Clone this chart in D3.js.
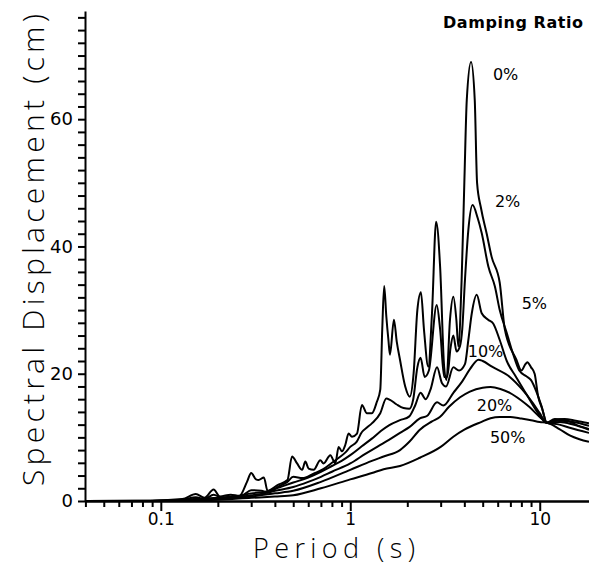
<!DOCTYPE html>
<html>
<head>
<meta charset="utf-8">
<script src="https://cdn.jsdelivr.net/npm/d3@7"></script>
<style>
  body { margin: 0; background: #fff; }
  .axis path, .axis line { stroke: #000; stroke-width: 2; }
  .axis text { font-family: "DejaVu Sans", sans-serif; fill: #000; }
  .curve { fill: none; stroke: #000; stroke-width: 2; stroke-linejoin: round; }
</style>
</head>
<body>
<div id="chart"></div>
<script>
// damping curves: [period (s), spectral displacement (cm)]
var damp0 = [[0.04,0],[0.09,0.05],[0.13,0.3],[0.153,1.1],[0.17,0.5],[0.19,1.8],[0.205,0.7],[0.234,1.0],[0.26,0.8],
  [0.285,3.0],[0.30,4.4],[0.318,3.4],[0.328,3.3],[0.35,3.7],[0.366,1.6],[0.413,2.5],[0.466,3.3],[0.493,7.0],
  [0.524,5.9],[0.557,4.9],[0.579,6.2],[0.603,5.1],[0.641,4.9],[0.695,6.4],[0.723,5.9],[0.785,7.2],[0.834,5.9],
  [0.868,8.5],[0.904,7.8],[0.941,8.8],[0.98,10.6],[1.021,10.1],[1.085,10.6],[1.152,15.1],[1.224,13.8],[1.301,13.8],
  [1.382,15.6],[1.44,17.5],[1.475,27],[1.51,33.8],[1.55,29],[1.59,25.3],[1.62,23.0],[1.70,28.5],[1.76,25],
  [1.83,22.2],[1.95,18],[2.06,16.4],[2.16,20.1],[2.26,30],[2.36,32.8],[2.45,26.9],[2.58,21.1],[2.70,29.5],
  [2.84,43.9],[2.98,36.8],[3.13,21.1],[3.22,19.0],[3.36,28.5],[3.50,32.1],[3.63,28.5],[3.72,24.3],[3.87,34.7],
  [4.0,50],[4.12,63],[4.34,69.0],[4.54,63],[4.67,50],[4.9,46],[5.25,42],[5.57,38.4],[6.15,34.3],[6.54,27],
  [7.53,22.2],[8.0,20.5],[8.4,21.5],[8.6,21.8],[9.0,21.0],[9.4,20.0],[9.8,16.5],[10.3,14.5],[10.9,12.3],
  [12.0,12.9],[13.5,12.8],[15.5,12.0],[18.2,11.3]];

var damp2 = [[0.04,0],[0.09,0.03],[0.13,0.2],[0.153,0.6],[0.17,0.3],[0.19,1.0],[0.21,0.5],[0.234,0.7],[0.27,0.9],
  [0.30,1.7],[0.34,1.6],[0.366,1.3],[0.42,2.3],[0.466,3.0],[0.5,3.8],[0.56,3.6],[0.64,4.3],[0.72,5.0],[0.8,6.0],
  [0.87,6.8],[0.94,7.6],[1.0,8.5],[1.08,9.3],[1.15,10.8],[1.22,11.5],[1.3,12.2],[1.44,13.8],[1.55,16.1],
  [1.62,15.9],[1.75,15.2],[1.91,14.6],[2.05,14.5],[2.15,16],[2.26,21],[2.35,22.5],[2.47,19.5],[2.6,20.5],
  [2.86,30.8],[2.98,27],[3.13,19.5],[3.25,19.5],[3.38,24],[3.5,26],[3.64,23.5],[3.79,24.3],[3.9,27],[4.03,34.7],
  [4.2,42.6],[4.42,46.5],[4.7,44.5],[4.94,42.1],[5.36,36.8],[5.8,33.7],[6.15,30.0],[6.7,26.4],[7.2,23.3],
  [7.8,20.5],[8.5,19.6],[9.0,19.0],[9.6,17.2],[10.2,15.0],[10.9,12.3],[12.0,12.7],[13.5,12.9],[15.5,12.6],[18.2,12.2]];

var damp5 = [[0.04,0],[0.1,0.02],[0.15,0.3],[0.2,0.5],[0.25,0.7],[0.3,1.2],[0.35,1.4],[0.4,1.9],[0.5,2.9],
  [0.6,3.7],[0.7,4.6],[0.8,5.5],[0.9,6.3],[1.0,7.2],[1.15,8.6],[1.3,9.8],[1.45,11.0],[1.6,11.9],[1.83,12.7],
  [2.05,13.3],[2.2,15.0],[2.35,17.0],[2.5,16.0],[2.65,17.5],[2.87,21.0],[3.05,18.5],[3.2,18.0],[3.5,21.0],
  [3.75,20.5],[4.03,21.5],[4.2,25.3],[4.38,29.5],[4.65,32.4],[4.94,29.5],[5.34,28.5],[5.68,27.9],[6.15,25.3],
  [6.7,22.0],[7.5,19.5],[8.5,16.8],[9.6,14.2],[10.9,12.3],[12.5,12.6],[15,12.4],[18.2,11.8]];

var damp10 = [[0.04,0],[0.1,0.02],[0.15,0.2],[0.2,0.4],[0.25,0.6],[0.3,0.9],[0.35,1.2],[0.4,1.6],[0.5,2.2],
  [0.6,3.0],[0.7,3.8],[0.8,4.6],[1.0,5.9],[1.2,7.4],[1.4,8.6],[1.6,9.6],[1.83,10.7],[2.05,11.6],[2.33,13.0],
  [2.55,13.4],[2.87,15.5],[3.1,15.0],[3.5,17.0],[3.9,18.8],[4.3,20.8],[4.75,22.2],[5.0,22.0],[5.6,21.1],
  [6.95,19.5],[8.1,17.5],[9.2,15.4],[10.0,13.8],[10.9,12.3],[12.7,12.4],[15,12.0],[18.2,11.2]];

var damp20 = [[0.04,0],[0.1,0.01],[0.2,0.3],[0.3,0.7],[0.4,1.2],[0.5,1.6],[0.7,3.0],[1.0,4.9],[1.3,6.3],
  [1.5,7.0],[1.83,8.0],[2.05,9.3],[2.33,11.2],[2.7,12.5],[2.97,13.2],[3.32,14.8],[3.8,16.3],[4.28,17.2],
  [5.0,17.8],[5.5,17.9],[6.2,17.6],[6.95,17.0],[8.0,15.8],[8.8,14.8],[10.0,13.2],[10.9,12.3],[12.7,12.0],
  [14.4,11.5],[18.2,10.7]];

var damp50 = [[0.04,0],[0.1,0.01],[0.2,0.2],[0.3,0.5],[0.4,0.7],[0.5,0.9],[0.7,2.0],[1.0,3.4],[1.3,4.4],
  [1.5,5.0],[1.83,5.5],[2.33,6.8],[3.0,8.5],[3.5,10.1],[4.0,11.2],[4.9,12.4],[5.5,13.0],[6.15,13.2],[7.0,13.2],
  [7.8,13.0],[9.0,12.7],[10.0,12.4],[10.9,12.3],[12.7,11.3],[14.4,10.3],[16.2,9.7],[18.2,9.3]];

// curve labels
var labelText = ["0%", "2%", "5%", "10%", "20%", "50%"];
var labelPeriod = [5.66, 5.80, 8.03, 4.17, 4.65, 5.46];
var labelDisp = [66.2, 46.2, 30.2, 22.6, 14.1, 9.1];

// ticks
var yMajor = [0, 20, 40, 60];
var xMajor = [0.1, 1, 10];

var svgWidth = 589;
var svgHeight = 567;

var margin = { top: 11, right: 0, bottom: 66, left: 85 };
var width = svgWidth - margin.left - margin.right;
var height = svgHeight - margin.top - margin.bottom;

var svg = d3.select("#chart")
  .append("svg")
  .attr("width", svgWidth)
  .attr("height", svgHeight);

var chartGroup = svg.append("g")
  .attr("transform", `translate(${margin.left}, ${margin.top})`);

var xScale = d3.scaleLog().domain([0.0398, 18.2]).range([0, width]);
var yScale = d3.scaleLinear().domain([0, 77]).range([height, 0]);

// minor x ticks
var xMinor = [];
[0.01, 0.1, 1, 10].forEach(function(dec) {
  for (var i = 2; i <= 9; i++) {
    var v = +(dec * i).toPrecision(2);
    if (v >= 0.04 && v <= 18) xMinor.push(v);
  }
});

// y axis
chartGroup.append("g")
  .attr("class", "axis")
  .call(d3.axisLeft(yScale)
    .tickValues(d3.range(0, 77, 2))
    .tickSize(7)
    .tickSizeOuter(0)
    .tickPadding(5)
    .tickFormat(d => yMajor.indexOf(d) >= 0 ? d : ""))
  .selectAll("text")
  .attr("font-size", "18px");

// x axis (minor + major)
chartGroup.append("g")
  .attr("class", "axis")
  .attr("transform", `translate(0, ${height})`)
  .call(d3.axisBottom(xScale).tickValues(xMinor).tickSize(6).tickSizeOuter(0).tickFormat(""));

chartGroup.append("g")
  .attr("class", "axis")
  .attr("transform", `translate(0, ${height})`)
  .call(d3.axisBottom(xScale).tickValues(xMajor).tickSize(10).tickSizeOuter(0).tickPadding(2)
    .tickFormat(d => d === 0.1 ? "0.1" : String(d)))
  .selectAll("text")
  .attr("font-size", "17px");

// curves
var line = d3.line()
  .x(d => xScale(d[0]))
  .y(d => yScale(d[1]))
  .curve(d3.curveMonotoneX);

[damp0, damp2, damp5, damp10, damp20, damp50].forEach(function(series) {
  chartGroup.append("path")
    .datum(series)
    .attr("class", "curve")
    .attr("d", line);
});

// labels on curves
chartGroup.selectAll(".dlabel")
  .data(labelText)
  .enter()
  .append("text")
  .attr("x", (d, i) => xScale(labelPeriod[i]))
  .attr("y", (d, i) => yScale(labelDisp[i]))
  .attr("font-family", "DejaVu Sans, sans-serif")
  .attr("font-size", "16px")
  .text(d => d);

svg.append("text")
  .attr("x", 513)
  .attr("y", 28)
  .attr("text-anchor", "middle")
  .attr("font-family", "DejaVu Sans, sans-serif")
  .attr("font-size", "16px")
  .attr("font-weight", "bold")
  .attr("textLength", 140)
  .text("Damping Ratio");

// axis titles
svg.append("text")
  .attr("x", 334)
  .attr("y", 558)
  .attr("text-anchor", "middle")
  .attr("font-family", "Open Sans, DejaVu Sans, sans-serif")
  .attr("font-weight", "300")
  .attr("font-size", "27px")
  .attr("textLength", 162)
  .text("Period (s)");

svg.append("text")
  .attr("transform", "rotate(-90)")
  .attr("x", -250)
  .attr("y", 44)
  .attr("text-anchor", "middle")
  .attr("font-family", "Open Sans, DejaVu Sans, sans-serif")
  .attr("font-weight", "300")
  .attr("font-size", "30px")
  .attr("textLength", 472)
  .text("Spectral Displacement (cm)");
</script>
</body>
</html>
